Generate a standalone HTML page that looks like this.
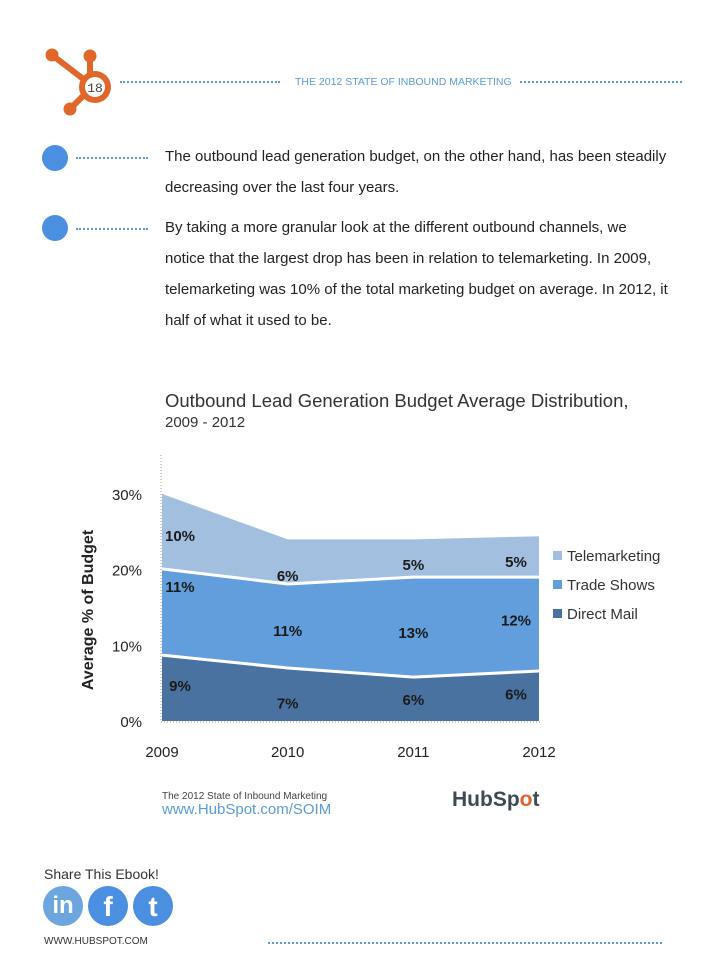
<!DOCTYPE html>
<html><head><meta charset="utf-8"><style>
body{margin:0;width:728px;height:971px;background:#fff;position:relative;overflow:hidden;font-family:"Liberation Sans",sans-serif;}
.a{position:absolute;}
.dots{position:absolute;border-top:2px dotted #5b9bd5;height:0;}
.p{position:absolute;left:165px;font-size:15px;color:#222;line-height:31px;width:510px;}
</style></head><body>
<svg class="a" style="left:40px;top:40px" width="90" height="80">
<g stroke="#e0662a" stroke-linecap="round" fill="#e0662a">
<line x1="12" y1="15" x2="42" y2="38" stroke-width="6"/><line x1="50" y1="18" x2="50" y2="38" stroke-width="6"/><line x1="44" y1="55" x2="32" y2="67" stroke-width="6"/>
<circle cx="12" cy="15" r="6"/><circle cx="50" cy="16" r="6"/><circle cx="30" cy="69" r="6"/></g>
<circle cx="55" cy="47" r="16" fill="#e0662a"/><circle cx="55" cy="47" r="10" fill="#fff"/>
<text x="55" y="52" font-size="13" text-anchor="middle" fill="#444" font-family="Liberation Mono">18</text></svg>
<div class="dots" style="left:120px;top:81px;width:160px"></div>
<div class="a" style="left:295px;top:76px;font-size:10.5px;color:#5b9bd5">THE 2012 STATE OF INBOUND MARKETING</div>
<div class="dots" style="left:520px;top:81px;width:162px"></div>
<div class="a" style="left:42px;top:145px;width:26px;height:26px;border-radius:50%;background:#4a8fe0"></div>
<div class="dots" style="left:76px;top:157px;width:72px"></div>
<div class="a" style="left:42px;top:215px;width:26px;height:26px;border-radius:50%;background:#4a8fe0"></div>
<div class="dots" style="left:76px;top:228px;width:72px"></div>
<div class="p" style="top:141px">The outbound lead generation budget, on the other hand, has been steadily decreasing over the last four years.</div>
<div class="p" style="top:212px;width:510px">By taking a more granular look at the different outbound channels, we<br>notice that the largest drop has been in relation to telemarketing. In 2009,<br>telemarketing was 10% of the total marketing budget on average. In 2012, it<br>half of what it used to be.</div>
<div class="a" style="left:165px;top:391px;font-size:18.5px;color:#333;line-height:20px">Outbound Lead Generation Budget Average Distribution,<br><span style="font-size:15px">2009 - 2012</span></div>
<svg id="chart" class="a" style="left:0;top:440px" width="728" height="340"></svg>
<div class="a" style="left:162px;top:791px;font-size:10px;color:#444">The 2012 State of Inbound Marketing</div>
<div class="a" style="left:162px;top:801px;font-size:15px;color:#5b9bd5">www.HubSpot.com/SOIM</div>
<div class="a" style="left:452px;top:788px;font-size:21px;font-weight:bold;color:#3d4a55">HubSp<span style="color:#e0662a">o</span>t</div>
<div class="a" style="left:44px;top:866px;font-size:14px;color:#333">Share This Ebook!</div>
<div class="a" style="left:43px;top:886px;width:40px;height:40px;border-radius:50%;background:#6da6de;color:#fff;font-weight:bold;font-size:24px;text-align:center;line-height:40px">in</div>
<div class="a" style="left:88px;top:886px;width:40px;height:40px;border-radius:50%;background:#4a8fe0;color:#fff;font-weight:bold;font-size:28px;text-align:center;line-height:42px">f</div>
<div class="a" style="left:133px;top:886px;width:40px;height:40px;border-radius:50%;background:#4a8fe0;color:#fff;font-weight:bold;font-size:28px;text-align:center;line-height:42px">t</div>
<div class="a" style="left:44px;top:936px;font-size:10px;color:#333">WWW.HUBSPOT.COM</div>
<div class="dots" style="left:268px;top:942px;width:394px"></div>
<script>
const years=["2009","2010","2011","2012"];
const directMail=[8.7,7.0,5.8,6.6];
const tradeShows=[11.4,11.1,13.2,12.4];
const telemarketing=[9.9,5.9,5.0,5.4];
const dmLabels=["9%","7%","6%","6%"];
const tsLabels=["11%","11%","13%","12%"];
const tmLabels=["10%","6%","5%","5%"];
const yTicks=[0,10,20,30];
const ns="http://www.w3.org/2000/svg",svg=document.getElementById('chart');
const X=i=>162+i*(539-162)/3, Y=v=>281-v*7.57;
function mk(t,a){const e=document.createElementNS(ns,t);for(const k in a)e.setAttribute(k,a[k]);svg.appendChild(e);return e;}
const series=[[directMail,"#4a72a0",dmLabels,"Direct Mail"],[tradeShows,"#639edc",tsLabels,"Trade Shows"],[telemarketing,"#a2bfe0",tmLabels,"Telemarketing"]];
let base=[0,0,0,0];
const labelOff=[[0.55,0.35,0.5,0.55],[0.8,0.45,0.45,0.55],[0.45,0.2,0.35,0.4]];
series.forEach((s,si)=>{
 const top=base.map((b,i)=>b+s[0][i]);
 let d="M"+years.map((y,i)=>X(i)+","+Y(top[i])).join(" L")+" L"+years.map((y,i)=>X(3-i)+","+Y(base[3-i])).join(" L")+"Z";
 const p=mk('path',{d:d,fill:s[1]});
 
 
 if(si>0){const l=mk('polyline',{points:years.map((y,i)=>X(i)+","+Y(base[i])).join(" "),fill:"none",stroke:"#fff","stroke-width":3});
 
 }
 years.forEach((y,i)=>{const v=base[i]+s[0][i]*labelOff[si][i];
  const t=mk('text',{x:i==0?180:X(i)+(i==3?-23:0),y:Y(v)+6,"font-size":15,"font-weight":"bold","text-anchor":"middle",fill:"#1a1a1a"});t.textContent=s[2][i];
  
  });
 const ly=[178,149,120][si];
 const r=mk('rect',{x:553,y:ly-9,width:9,height:9,fill:s[1]});
 
 
 const lt=mk('text',{x:567,y:ly+1,"font-size":15,fill:"#333"});lt.textContent=s[3];
 
 
 base=top;
});
const ax=mk('line',{x1:161,y1:15,x2:161,y2:282,stroke:"#999","stroke-dasharray":"1,2"});


const bx=mk('line',{x1:161,y1:282,x2:540,y2:282,stroke:"#999","stroke-dasharray":"1,2"});


yTicks.forEach(v=>{const t=mk('text',{x:142,y:Y(v)+6,"font-size":15,"text-anchor":"end",fill:"#222"});t.textContent=v+"%";
 
 });
years.forEach((y,i)=>{const t=mk('text',{x:X(i),y:317,"font-size":15,"text-anchor":"middle",fill:"#222"});t.textContent=y;
 
 });
const yt=mk('text',{x:0,y:0,"font-size":16,"font-weight":"bold","text-anchor":"middle",fill:"#222",transform:"translate(93,170) rotate(-90)"});
yt.textContent="Average % of Budget";


</script>
</body></html>
